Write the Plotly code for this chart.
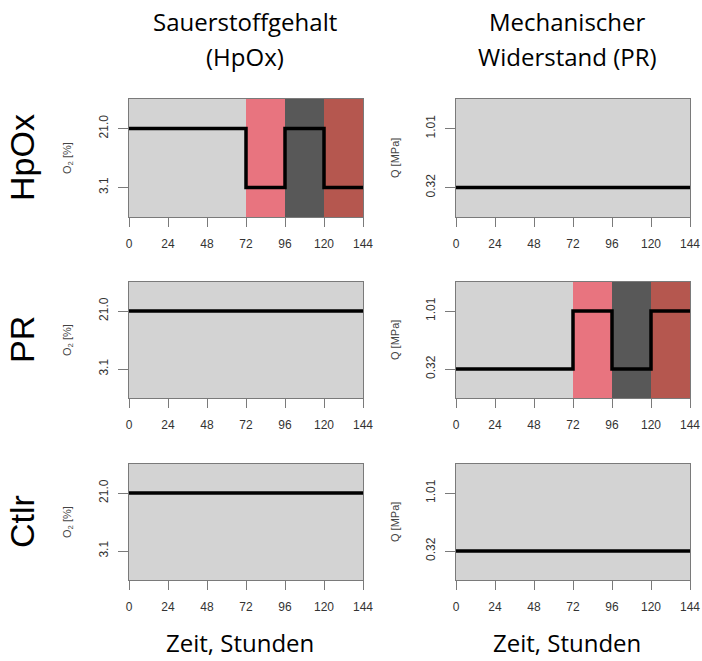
import plotly.graph_objects as go

# time points (hours) where the step signal changes
hours = [0, 72, 96, 120, 144]
hour_ticks = [0, 24, 48, 72, 96, 120, 144]

o2_levels = ["3.1", "21.0"]
q_levels = ["0.32", "1.01"]

o2_hpox = ["21.0", "3.1", "21.0", "3.1", "3.1"]
o2_pr = ["21.0", "21.0", "21.0", "21.0", "21.0"]
o2_ctlr = ["21.0", "21.0", "21.0", "21.0", "21.0"]

q_hpox = ["0.32", "0.32", "0.32", "0.32", "0.32"]
q_pr = ["0.32", "1.01", "0.32", "1.01", "1.01"]
q_ctlr = ["0.32", "0.32", "0.32", "0.32", "0.32"]

phase_start = [72, 96, 120]
phase_end = [96, 120, 144]
phase_colors = ["#E8747F", "#585858", "#B5574F"]

row_names = ["HpOx", "PR", "Ctlr"]
stim_col = [0, 1, None]  # which column carries the stimulus in each row

col_titles = [["Sauerstoffgehalt", "(HpOx)"], ["Mechanischer", "Widerstand (PR)"]]
y_titles = ["O<sub>2</sub> [%]", "Q [MPa]"]
x_title = "Zeit, Stunden"

series = [[o2_hpox, q_hpox], [o2_pr, q_pr], [o2_ctlr, q_ctlr]]
levels = [o2_levels, q_levels]

W, H = 702, 661
col_px = [(129, 363), (456, 690)]
row_px = [(99, 217), (282, 398), (464, 580)]
title_cx = [245, 567]
xtitle_cx = [240, 567]


def fx(px):
    return px / W


def fy(py):
    return 1 - py / H


fig = go.Figure()
layout = dict(
    width=W, height=H,
    margin=dict(l=0, r=0, t=0, b=0, autoexpand=False),
    paper_bgcolor="white",
    plot_bgcolor="#D3D3D3",
    showlegend=False,
    font=dict(family="Liberation Sans, Arial", color="#333333"),
)
shapes = []
annotations = []

for r in range(3):
    for c in range(2):
        n = r * 2 + c + 1
        xa = "x" if n == 1 else f"x{n}"
        ya = "y" if n == 1 else f"y{n}"
        fig.add_trace(go.Scatter(
            x=hours, y=series[r][c], xaxis=xa, yaxis=ya,
            mode="lines", line=dict(color="black", width=3.5, shape="hv"),
        ))
        layout[f"xaxis{n}"] = dict(
            domain=[fx(col_px[c][0]), fx(col_px[c][1])],
            anchor=ya, range=[0, 144],
            tickvals=hour_ticks, ticks="outside", ticklen=9, tickcolor="#7a7a7a",
            ticklabelstandoff=7,
            showline=True, mirror=True, linecolor="#7a7a7a", linewidth=1,
            showgrid=False, zeroline=False, automargin=False,
            tickfont=dict(size=12, color="#333333"),
        )
        layout[f"yaxis{n}"] = dict(
            domain=[fy(row_px[r][1]), fy(row_px[r][0])],
            anchor=xa, type="category",
            categoryorder="array", categoryarray=levels[c],
            range=[-0.5, 1.5],
            ticks="outside", ticklen=10, tickcolor="#7a7a7a", tickangle=-90,
            ticklabelstandoff=5,
            showline=True, mirror=True, linecolor="#7a7a7a", linewidth=1,
            showgrid=False, zeroline=False, automargin=False,
            tickfont=dict(size=12, color="#333333"),
        )
        if stim_col[r] == c:
            for s, e, col in zip(phase_start, phase_end, phase_colors):
                shapes.append(dict(
                    type="rect", xref=xa, yref=f"{ya} domain",
                    x0=s, x1=e, y0=0, y1=1,
                    fillcolor=col, line=dict(width=0), layer="below",
                ))
        # y axis title
        annotations.append(dict(
            text=y_titles[c], textangle=-90, showarrow=False,
            xref="paper", yref="paper",
            x=fx(col_px[c][0] - 61), y=fy((row_px[r][0] + row_px[r][1]) / 2),
            xanchor="center", yanchor="middle",
            font=dict(size=11, color="#444444"),
        ))
    # row label
    annotations.append(dict(
        text=row_names[r], textangle=-90, showarrow=False,
        xref="paper", yref="paper",
        x=fx(22), y=fy((row_px[r][0] + row_px[r][1]) / 2),
        xanchor="center", yanchor="middle",
        font=dict(size=34, color="black", family="Liberation Sans, Arial"),
    ))

for c in range(2):
    for i, line in enumerate(col_titles[c]):
        annotations.append(dict(
            text=line, showarrow=False, xref="paper", yref="paper",
            x=fx(title_cx[c]), y=fy(22 + 35 * i), xanchor="center", yanchor="middle",
            font=dict(size=24, color="black", family="Open Sans"),
        ))
    annotations.append(dict(
        text=x_title, showarrow=False, xref="paper", yref="paper",
        x=fx(xtitle_cx[c]), y=0, xanchor="center", yanchor="bottom",
        font=dict(size=24, color="black", family="Open Sans"),
    ))

layout["shapes"] = shapes
layout["annotations"] = annotations
fig.update_layout(**layout)

# drop the default page margin so the figure sits at the window's corner
fig.write_html(
    "out.html",
    config={"displayModeBar": False, "responsive": False},
    post_script="document.body.style.margin='0';document.body.style.overflow='hidden';",
)
